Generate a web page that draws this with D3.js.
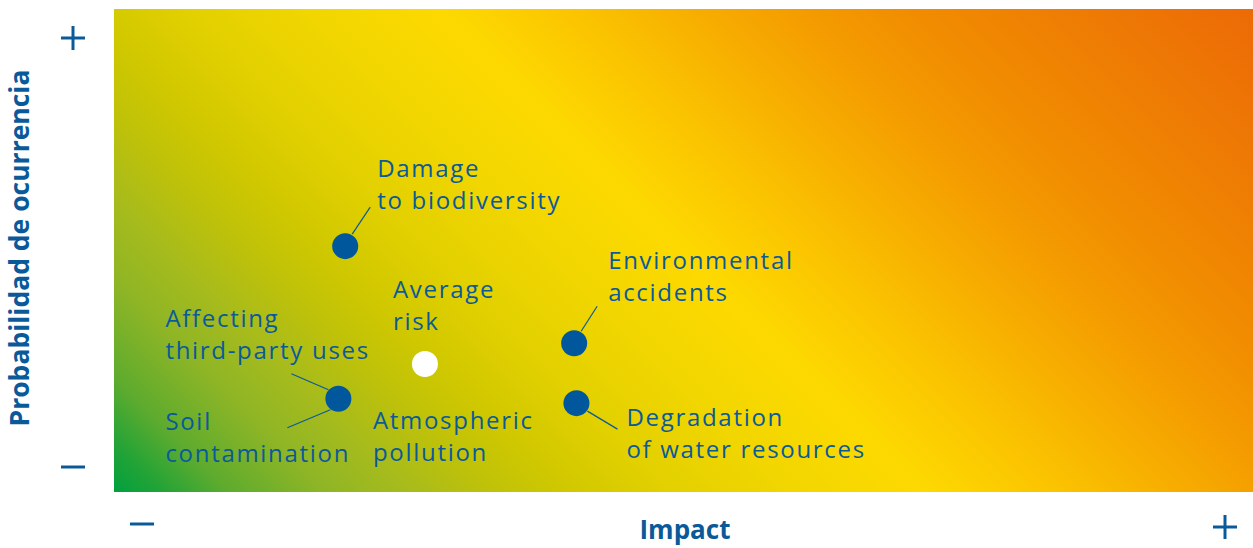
<!DOCTYPE html>
<html><head><meta charset="utf-8">
<script src="https://cdn.jsdelivr.net/npm/d3@7"></script>
<style>html,body{margin:0;padding:0;background:#fff;}svg{display:block;}</style>
</head><body>
<svg id="c" width="1253" height="548"></svg>
<script>
// ---- data ----
const risks = ["Damage to biodiversity","Affecting third-party uses / Soil contamination","Average risk / Atmospheric pollution","Environmental accidents","Degradation of water resources"];
const impact = [20.3, 19.7, 27.3, 40.4, 40.6];
const probability = [50.9, 19.3, 26.5, 30.8, 18.4];
const isAverage = [false, false, true, false, false];
const xAxisTitle = "Impact";
const yAxisTitle = "Probabilidad de ocurrencia";

// ---- layout ----
const plot = {x0:114, x1:1253, y0:9, y1:492};
const blue = "#0a5a9a";
const svg = d3.select("#c");
const x = d3.scaleLinear().domain([0,100]).range([plot.x0, plot.x1]);
const y = d3.scaleLinear().domain([0,100]).range([plot.y1, plot.y0]);

// gradient (diagonal, 45deg in pixel space)
const defs = svg.append("defs");
const gx0 = plot.x0, gy0 = plot.y1;
const L = (plot.x1 - plot.y0) - (plot.x0 - plot.y1);
const g = defs.append("linearGradient").attr("id","bg").attr("gradientUnits","userSpaceOnUse")
  .attr("x1", gx0).attr("y1", gy0)
  .attr("x2", gx0 + L/2).attr("y2", gy0 - L/2);
[[0,"#00a03e"],[0.03,"#22a337"],[0.07,"#5dab2e"],[0.13,"#8eb526"],[0.18,"#a6bb1c"],[0.23,"#bec10a"],
 [0.28,"#d0c800"],[0.34,"#e2d000"],[0.42,"#f2d600"],[0.50,"#fdd900"],[0.58,"#fbc400"],[0.66,"#f7ac00"],[0.72,"#f49c00"],
 [0.79,"#f18c00"],[0.90,"#ee7a04"],[1,"#ec6a06"]]
 .forEach(([o,c]) => g.append("stop").attr("offset", o).attr("stop-color", c));

svg.append("rect").attr("x", plot.x0).attr("y", plot.y0)
  .attr("width", plot.x1 - plot.x0).attr("height", plot.y1 - plot.y0)
  .attr("fill","url(#bg)");

// plus / minus signs
function minus(cx, cy){ svg.append("line").attr("x1",cx-12).attr("x2",cx+12).attr("y1",cy).attr("y2",cy).attr("stroke",blue).attr("stroke-width",3); }
function plus(cx, cy){ minus(cx, cy); svg.append("line").attr("x1",cx).attr("x2",cx).attr("y1",cy-12).attr("y2",cy+12).attr("stroke",blue).attr("stroke-width",3); }
plus(73, 38); minus(73, 467);
minus(142, 524); plus(1225, 527);

// axis titles
svg.append("text").attr("x", 685).attr("y", 539).attr("text-anchor","middle")
  .attr("font-family","Open Sans").attr("font-weight",700).attr("font-size",26).attr("fill",blue).text(xAxisTitle);
svg.append("text").attr("transform","translate(29,248) rotate(-90)").attr("text-anchor","middle")
  .attr("font-family","Open Sans").attr("font-weight",700).attr("font-size",26.5).attr("fill",blue).text(yAxisTitle);

// label blocks: [dx, dy] of first baseline relative to the point, plus leader lines
const labelLayout = [
  {blocks:[{lines:["Damage","to biodiversity"], dx:32, dy:-69}], leaders:[[7,-12,25,-39]]},
  {blocks:[{lines:["Affecting","third-party uses"], dx:-173, dy:-72},{lines:["Soil","contamination"], dx:-173, dy:31}],
   leaders:[[-10,-9,-47,-25],[-8,11,-51,29]]},
  {blocks:[{lines:["Average","risk"], dx:-32, dy:-66},{lines:["Atmospheric","pollution"], dx:-52, dy:65}], leaders:[]},
  {blocks:[{lines:["Environmental","accidents"], dx:34, dy:-74}], leaders:[[7,-12,23,-37]]},
  {blocks:[{lines:["Degradation","of water resources"], dx:50, dy:23}], leaders:[[11,8,41,26]]}
];

const pts = risks.map((r,i)=>({name:r, cx:x(impact[i]), cy:y(probability[i]), avg:isAverage[i], lay:labelLayout[i]}));

pts.forEach(p => {
  p.lay.leaders.forEach(l => {
    svg.append("line").attr("x1",p.cx+l[0]).attr("y1",p.cy+l[1]).attr("x2",p.cx+l[2]).attr("y2",p.cy+l[3])
      .attr("stroke", blue).attr("stroke-width",1.2);
  });
});

svg.selectAll("circle.pt").data(pts).enter().append("circle").attr("class","pt")
  .attr("cx", d=>d.cx).attr("cy", d=>d.cy).attr("r", 13)
  .attr("fill", d=>d.avg ? "#ffffff" : "#00579b");

pts.forEach(p => {
  p.lay.blocks.forEach(b => {
    const t = svg.append("text").attr("font-family","Open Sans").attr("font-size",24)
      .attr("letter-spacing", 1.7).attr("fill",blue);
    b.lines.forEach((ln, k) => {
      t.append("tspan").attr("x", p.cx + b.dx).attr("y", p.cy + b.dy + k*32).text(ln);
    });
  });
});
</script>
</body></html>
